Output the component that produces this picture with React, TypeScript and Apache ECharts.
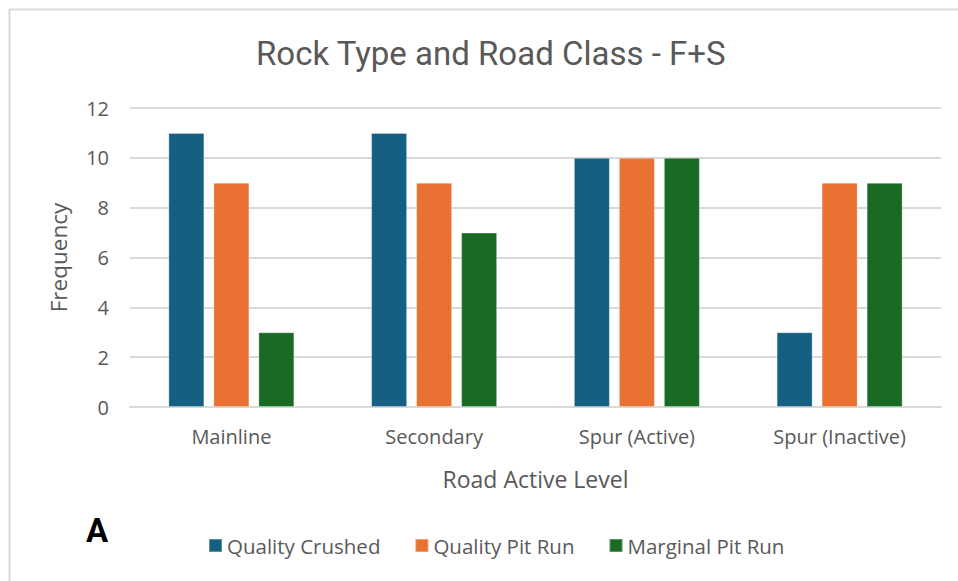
import React, { useEffect, useRef } from "react";
import * as echarts from "echarts";

const categories = ["Mainline", "Secondary", "Spur (Active)", "Spur (Inactive)"];
const seriesNames = ["Quality Crushed", "Quality Pit Run", "Marginal Pit Run"];
const qualityCrushed = [11, 11, 10, 3];
const qualityPitRun = [9, 9, 10, 9];
const marginalPitRun = [3, 7, 10, 9];
const seriesColors = ["#156082", "#E97132", "#196B24"];

const W = 958;
const H = 581;
const textColor = "#595959";
const gridColor = "#d9d9d9";
const font = "'Open Sans', 'Noto Sans', sans-serif";
const titleFont = "Roboto, sans-serif";

export default function App() {
  const ref = useRef<HTMLDivElement>(null);

  useEffect(() => {
    if (!ref.current) return;
    const chart = echarts.init(ref.current, null, { renderer: "svg" });
    const values = [qualityCrushed, qualityPitRun, marginalPitRun];

    chart.setOption({
      animation: false,
      backgroundColor: "#ffffff",
      title: {
        text: "Rock Type and Road Class - F+S",
        left: 251,
        top: 32,
        textStyle: {
          color: textColor,
          fontSize: 33,
          fontWeight: "normal",
          fontFamily: titleFont,
        },
      },
      legend: {
        top: 535,
        left: 208,
        padding: 0,
        itemWidth: 13,
        itemHeight: 13,
        itemGap: 34,
        icon: "rect",
        textStyle: { color: textColor, fontSize: 20.5, fontFamily: font },
        data: seriesNames,
      },
      grid: { left: 130, right: 17, top: 108, bottom: 174 },
      xAxis: {
        type: "category",
        data: categories,
        name: "Road Active Level",
        nameLocation: "middle",
        nameGap: 60,
        nameTextStyle: { color: textColor, fontSize: 23, fontFamily: font },
        axisLine: { lineStyle: { color: gridColor, width: 2 } },
        axisTick: { show: false },
        axisLabel: { color: textColor, fontSize: 20, margin: 19, fontFamily: font },
      },
      yAxis: {
        type: "value",
        min: 0,
        max: 12,
        interval: 2,
        name: "Frequency",
        nameLocation: "middle",
        nameGap: 60,
        nameTextStyle: { color: textColor, fontSize: 22.5, fontFamily: font },
        axisLine: { show: false },
        axisTick: { show: false },
        axisLabel: { color: textColor, fontSize: 20, margin: 21, fontFamily: font },
        splitLine: { lineStyle: { color: gridColor, width: 2 } },
      },
      series: seriesNames.map((name, i) => ({
        name,
        type: "bar",
        data: values[i],
        barWidth: 36,
        barGap: "25%",
        itemStyle: {
          color: seriesColors[i],
          borderColor: "rgba(255,255,255,0.3)",
          borderWidth: 1,
        },
      })),
      graphic: [
        {
          type: "line",
          shape: { x1: 9, y1: 9.5, x2: W, y2: 9.5 },
          style: { stroke: gridColor, lineWidth: 2 },
        },
        {
          type: "line",
          shape: { x1: 9.5, y1: 9, x2: 9.5, y2: H },
          style: { stroke: gridColor, lineWidth: 2 },
        },
        {
          type: "text",
          left: 86,
          top: 514,
          style: {
            text: "A",
            fill: "#000000",
            font: "bold 33px Roboto, sans-serif",
          },
        },
      ],
    });

    return () => chart.dispose();
  }, []);

  return (
    <div
      ref={ref}
      style={{ position: "fixed", left: 0, top: 0, width: W, height: H }}
    />
  );
}
